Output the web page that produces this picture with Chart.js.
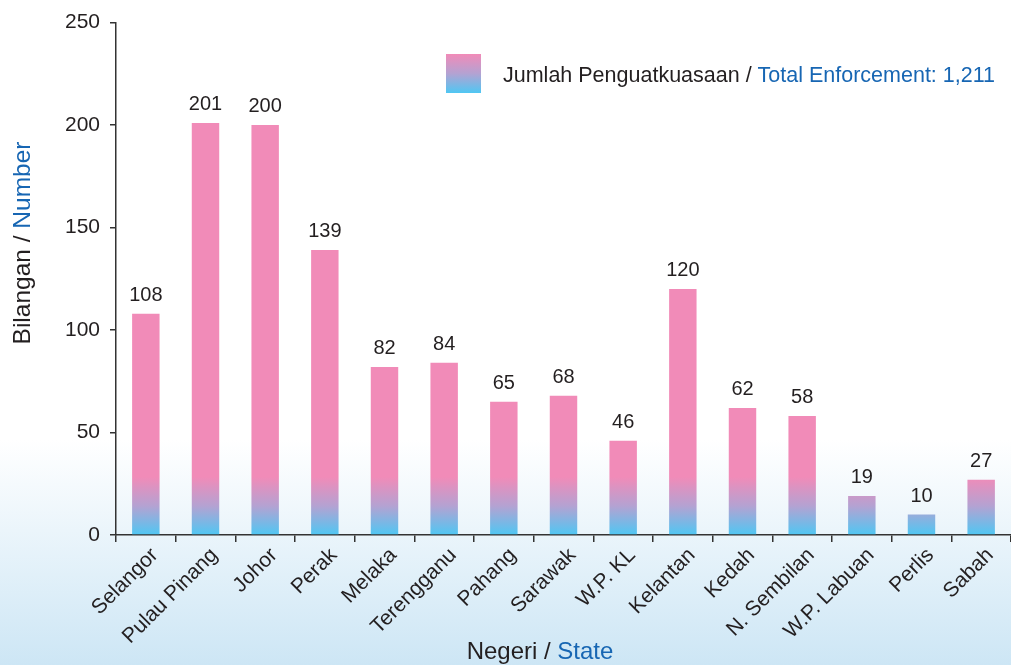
<!DOCTYPE html>
<html>
<head>
<meta charset="utf-8">
<script src="https://cdn.jsdelivr.net/npm/chart.js@4/dist/chart.umd.min.js"></script>
<style>
  html, body { margin: 0; padding: 0; background: #fff; }
  #wrap { width: 1011px; height: 665px; }
</style>
</head>
<body>
<div id="wrap"><canvas id="c" width="1011" height="665"></canvas></div>
<script>
const categories = ["Selangor", "Pulau Pinang", "Johor", "Perak", "Melaka", "Terengganu", "Pahang", "Sarawak", "W.P. KL", "Kelantan", "Kedah", "N. Sembilan", "W.P. Labuan", "Perlis", "Sabah"];
const values = [108, 201, 200, 139, 82, 84, 65, 68, 46, 120, 62, 58, 19, 10, 27];
const yTickValues = [0, 50, 100, 150, 200, 250];
const legendBlack = "Jumlah Penguatkuasaan / ";
const legendBlue = "Total Enforcement: 1,211";
const yTitleBlack = "Bilangan / ";
const yTitleBlue = "Number";
const xTitleBlack = "Negeri / ";
const xTitleBlue = "State";

const FONT = "'Liberation Sans', Arial, Helvetica, sans-serif";
const DARK = "#231f20";
const BLUE = "#1766b3";
const PINK = "#f18bb8";
const MID = "#b4a2d2";
const SKY = "#4fc7f3";

function barGradient(ctx, area) {
  const g = ctx.createLinearGradient(0, area.bottom, 0, area.bottom - 58);
  g.addColorStop(0, SKY);
  g.addColorStop(0.5, MID);
  g.addColorStop(1, PINK);
  return g;
}

const decor = {
  id: "decor",
  beforeDraw(chart) {
    const { ctx, width, height } = chart;
    ctx.save();
    const g = ctx.createLinearGradient(0, 440, 0, height);
    g.addColorStop(0, "#ffffff");
    g.addColorStop(1, "#cde6f5");
    ctx.fillStyle = g;
    ctx.fillRect(0, 0, width, height);
    ctx.restore();
  },
  afterDatasetsDraw(chart) {
    const { ctx } = chart;
    const meta = chart.getDatasetMeta(0);
    ctx.save();
    ctx.font = "20px " + FONT;
    ctx.fillStyle = DARK;
    ctx.textAlign = "center";
    ctx.textBaseline = "alphabetic";
    meta.data.forEach((bar, i) => {
      ctx.fillText(String(values[i]), bar.x, bar.y - 13);
    });
    ctx.restore();
  },
  afterDraw(chart) {
    const { ctx } = chart;
    ctx.save();
    // legend
    const lx = 446, ly = 54, lw = 35, lh = 39;
    const lg = ctx.createLinearGradient(0, ly, 0, ly + lh);
    lg.addColorStop(0, PINK);
    lg.addColorStop(0.5, MID);
    lg.addColorStop(1, SKY);
    ctx.fillStyle = lg;
    ctx.fillRect(lx, ly, lw, lh);
    ctx.font = "21.5px " + FONT;
    ctx.textBaseline = "alphabetic";
    ctx.textAlign = "left";
    ctx.fillStyle = DARK;
    ctx.fillText(legendBlack, 503, 82);
    const w1 = ctx.measureText(legendBlack).width;
    ctx.fillStyle = BLUE;
    ctx.fillText(legendBlue, 503 + w1, 82);

    // x title
    ctx.font = "24px " + FONT;
    const xw1 = ctx.measureText(xTitleBlack).width;
    const xw2 = ctx.measureText(xTitleBlue).width;
    const xs = 540 - (xw1 + xw2) / 2;
    ctx.fillStyle = DARK;
    ctx.fillText(xTitleBlack, xs, 659);
    ctx.fillStyle = BLUE;
    ctx.fillText(xTitleBlue, xs + xw1, 659);

    // y title
    ctx.font = "24.5px " + FONT;
    ctx.translate(30, 243);
    ctx.rotate(-Math.PI / 2);
    const yw1 = ctx.measureText(yTitleBlack).width;
    const yw2 = ctx.measureText(yTitleBlue).width;
    const ys = -(yw1 + yw2) / 2;
    ctx.fillStyle = DARK;
    ctx.fillText(yTitleBlack, ys, 0);
    ctx.fillStyle = BLUE;
    ctx.fillText(yTitleBlue, ys + yw1, 0);
    ctx.restore();
  }
};

new Chart(document.getElementById("c"), {
  type: "bar",
  data: {
    labels: categories,
    datasets: [{
      data: values,
      backgroundColor(c) {
        const area = c.chart.chartArea;
        if (!area) return PINK;
        return barGradient(c.chart.ctx, area);
      },
      borderWidth: 0,
      barPercentage: 0.46,
      categoryPercentage: 1
    }]
  },
  options: {
    responsive: false,
    devicePixelRatio: 1,
    animation: false,
    layout: { padding: { top: 20, left: 0, right: 0, bottom: 0 } },
    plugins: { legend: { display: false }, tooltip: { enabled: false } },
    scales: {
      x: {
        grid: { offset: true, drawOnChartArea: false, drawTicks: true, tickLength: 7, color: "#333", lineWidth: 1.5 },
        border: { color: "#333", width: 1.5 },
        ticks: { minRotation: 45, maxRotation: 45, autoSkip: false, color: DARK, font: { size: 21, family: FONT }, padding: 1, labelOffset: 9 },
        afterFit(s) { s.height = 130; }
      },
      y: {
        min: 0, max: 250,
        afterBuildTicks(s) { s.ticks = yTickValues.map(v => ({ value: v })); },
        grid: { drawOnChartArea: false, drawTicks: true, tickLength: 6, color: "#333", lineWidth: 1.5 },
        border: { color: "#333", width: 1.5 },
        ticks: { color: DARK, font: { size: 21, family: FONT }, padding: 10 },
        afterFit(s) { s.width = 116; }
      }
    }
  },
  plugins: [decor]
});
</script>
</body>
</html>
